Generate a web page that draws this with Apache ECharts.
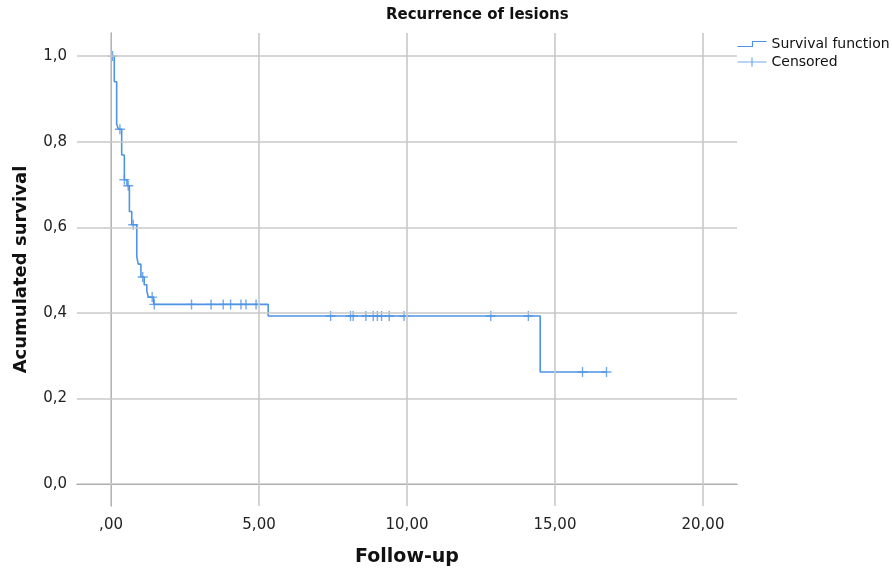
<!DOCTYPE html>
<html>
<head>
<meta charset="utf-8">
<script src="https://cdn.jsdelivr.net/npm/echarts@6/dist/echarts.min.js"></script>
<style>html,body{margin:0;padding:0;background:#fff}#c{width:892px;height:572px}</style>
</head>
<body>
<div id="c"></div>
<script>
// Kaplan-Meier step curve: event times and survival after each event
var stepTimes = [0, 0.11, 0.19, 0.25, 0.36, 0.45, 0.54, 0.62, 0.70, 0.87, 0.92, 1.01, 1.12, 1.21, 1.26, 1.44, 5.31, 14.50, 16.74];
var stepSurv  = [1.0, 0.94, 0.841, 0.829, 0.769, 0.711, 0.697, 0.637, 0.606, 0.531, 0.514, 0.484, 0.466, 0.451, 0.437, 0.42, 0.393, 0.262, 0.262];
// Censored observations
var censorTimes = [0.05, 0.30, 0.45, 0.58, 0.75, 1.07, 1.39, 1.46, 2.72, 3.38, 3.79, 4.04, 4.39, 4.56, 4.90, 7.42, 8.09, 8.18, 8.61, 8.86, 9.00, 9.14, 9.40, 9.90, 12.83, 14.10, 15.93, 16.74];
var censorSurv  = [1.0, 0.829, 0.711, 0.697, 0.606, 0.484, 0.437, 0.42, 0.42, 0.42, 0.42, 0.42, 0.42, 0.42, 0.42, 0.393, 0.393, 0.393, 0.393, 0.393, 0.393, 0.393, 0.393, 0.393, 0.393, 0.393, 0.262, 0.262];
// Tick labels
var xTickValues = [0, 5, 10, 15, 20];
var xTickLabels = [',00', '5,00', '10,00', '15,00', '20,00'];
var yTickValues = [0, 0.2, 0.4, 0.6, 0.8, 1.0];
var yTickLabels = ['0,0', '0,2', '0,4', '0,6', '0,8', '1,0'];

var lineColor = '#4f94e4';
var FONT = 'DejaVu Sans';

var chart = echarts.init(document.getElementById('c'), null, {renderer: 'canvas'});

var curveData = stepTimes.map(function (t, i) { return [t, stepSurv[i]]; });
var censorData = censorTimes.map(function (t, i) { return [t, censorSurv[i]]; });

var gridMarks = [];
xTickValues.forEach(function (v) { gridMarks.push({xAxis: v}); });
yTickValues.forEach(function (v) { gridMarks.push({yAxis: v}); });

function lookup(vals, labels, v) {
  for (var i = 0; i < vals.length; i++) if (Math.abs(vals[i] - v) < 1e-6) return labels[i];
  return '';
}

chart.setOption({
  animation: false,
  textStyle: {fontFamily: FONT},
  title: {
    text: 'Recurrence of lesions',
    left: 386, top: 8, padding: 0,
    textStyle: {fontFamily: FONT, fontSize: 15, fontWeight: 'bold', color: '#111'}
  },
  legend: {
    orient: 'vertical',
    left: 735, top: 37, padding: 0,
    itemWidth: 29, itemHeight: 12, itemGap: 4,
    symbolKeepAspect: true,
    textStyle: {fontFamily: FONT, fontSize: 14, color: '#111'},
    data: [
      {name: 'Survival function', icon: 'path://M0,5 L15,5 L15,0 L29,0', itemStyle: {color: 'none', borderColor: lineColor, borderWidth: 1.2}},
      {name: 'Censored', icon: 'path://M0,4.5 L29,4.5 M14.5,0 L14.5,9', itemStyle: {color: 'none', borderColor: lineColor, borderWidth: 1.2}}
    ]
  },
  grid: {left: 77, right: 155, top: 33, bottom: 65, containLabel: false},
  xAxis: {
    type: 'value', min: -1.15, max: 21.15,
    name: 'Follow-up', nameLocation: 'middle', nameGap: 42,
    nameTextStyle: {fontFamily: FONT, fontSize: 19, fontWeight: 'bold', color: '#111'},
    axisLine: {show: true, lineStyle: {color: '#666', width: 1}},
    axisTick: {show: false},
    splitLine: {show: false},
    axisLabel: {
      customValues: xTickValues, margin: 12,
      fontFamily: FONT, fontSize: 15, color: '#222',
      formatter: function (v) { return lookup(xTickValues, xTickLabels, v); }
    }
  },
  yAxis: {
    type: 'value', min: -0.051, max: 1.054,
    name: 'Acumulated survival', nameLocation: 'middle', nameGap: 47, nameRotate: 90,
    nameTextStyle: {fontFamily: FONT, fontSize: 18, fontWeight: 'bold', color: '#111'},
    axisLine: {show: true, lineStyle: {color: '#666', width: 1}},
    axisTick: {show: false},
    splitLine: {show: false},
    axisLabel: {
      customValues: yTickValues, margin: 10,
      fontFamily: FONT, fontSize: 15, color: '#222',
      formatter: function (v) { return lookup(yTickValues, yTickLabels, v); }
    }
  },
  series: [
    {
      name: 'grid', type: 'line', data: [], z: 1, silent: true,
      markLine: {
        silent: true, symbol: 'none', animation: false,
        label: {show: false},
        lineStyle: {color: '#c8c8c8', type: 'solid', width: 1.6},
        data: gridMarks
      }
    },
    {
      name: 'Survival function', type: 'line', step: 'end', data: curveData,
      showSymbol: false, symbol: 'none', z: 3,
      lineStyle: {color: lineColor, width: 1.6}, itemStyle: {color: lineColor}
    },
    {
      name: 'Censored', type: 'scatter', data: censorData, z: 4,
      symbol: 'path://M0,5 L10,5 M5,0 L5,10', symbolSize: 10,
      itemStyle: {color: 'none', borderColor: lineColor, borderWidth: 1.4}
    }
  ]
});
</script>
</body>
</html>
